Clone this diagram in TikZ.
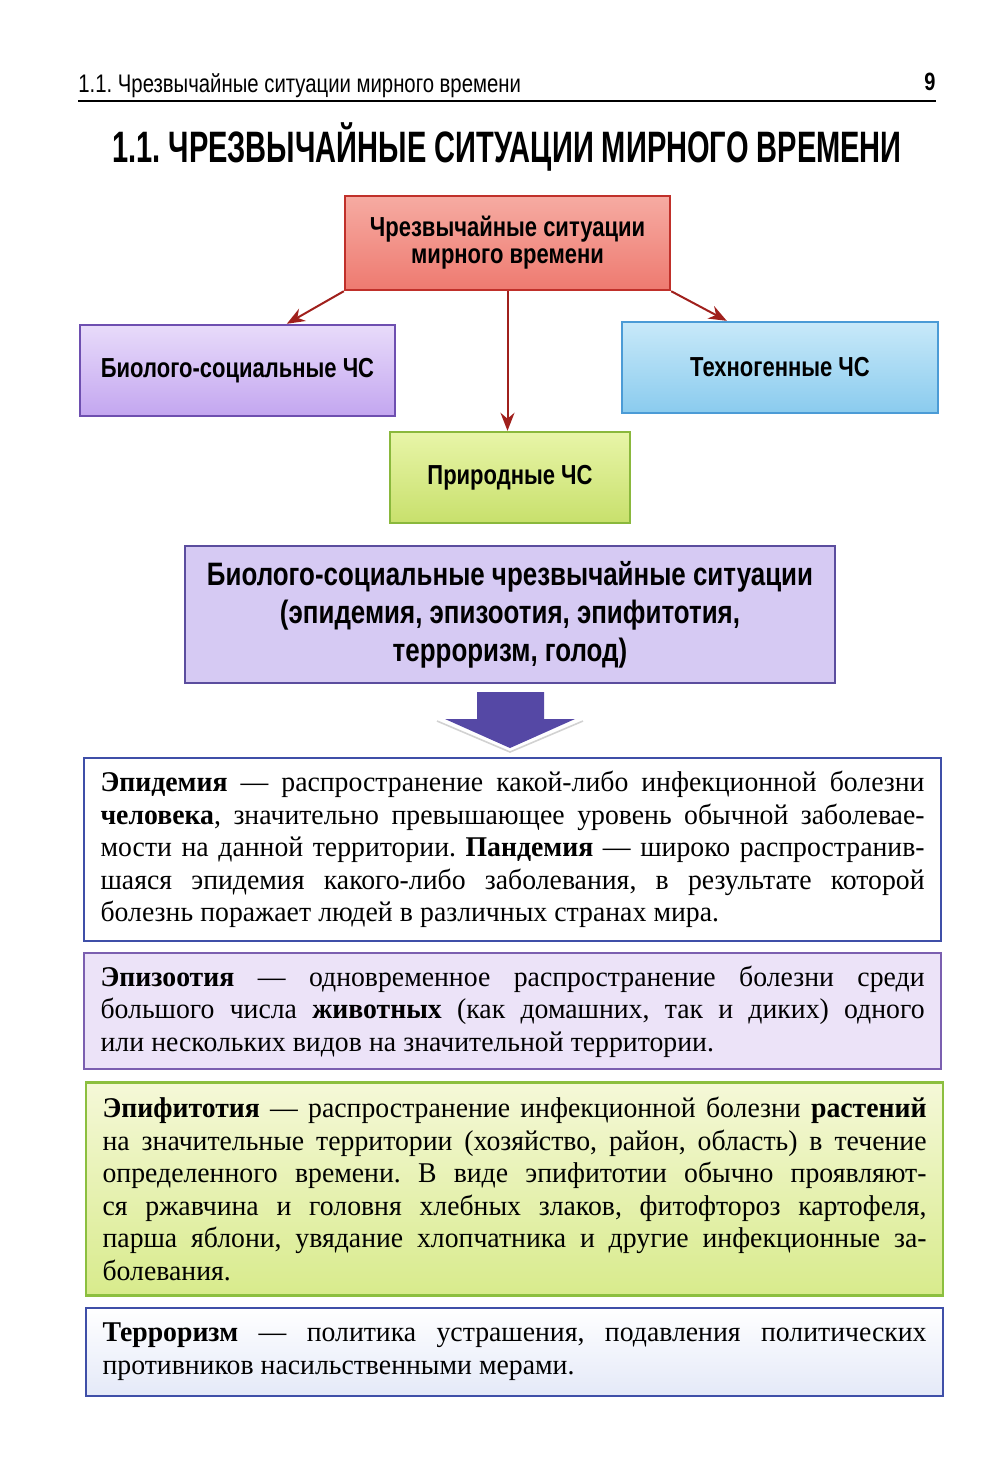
\documentclass[tikz,border=0pt]{standalone}
\usepackage{fontspec}
\setmainfont[FakeStretch=0.97]{Liberation Serif}
\newfontfamily\narrowsf[FakeStretch=0.8]{Liberation Sans}
\newfontfamily\titlesf[FakeStretch=0.66]{Liberation Sans}
\usetikzlibrary{positioning, arrows.meta}
\frenchspacing
\newcommand\bodyspacing{\spaceskip=0.25em plus 0.6em minus 0.12em\relax}

\definecolor{rootdraw}{HTML}{C0302A}
\definecolor{roottop}{HTML}{F6ABA2}
\definecolor{rootbot}{HTML}{EE7A70}
\definecolor{biodraw}{HTML}{6E4FB0}
\definecolor{biotop}{HTML}{E8DBFA}
\definecolor{biobot}{HTML}{C3A6F0}
\definecolor{techdraw}{HTML}{4B9BD6}
\definecolor{techtop}{HTML}{C8E9F9}
\definecolor{techbot}{HTML}{8ACBEE}
\definecolor{natdraw}{HTML}{8AB83C}
\definecolor{nattop}{HTML}{E8F5A8}
\definecolor{natbot}{HTML}{C8E06C}
\definecolor{linkred}{HTML}{A0201C}
\definecolor{bigfill}{HTML}{D6CAF3}
\definecolor{bigdraw}{HTML}{5B4D9E}
\definecolor{arrowfill}{HTML}{5548A5}
\definecolor{epiblue}{HTML}{3F4FA8}
\definecolor{zoopurple}{HTML}{7B5FB0}
\definecolor{zoofill}{HTML}{ECE3F8}
\definecolor{fitgreen}{HTML}{8CBF3F}
\definecolor{fittop}{HTML}{F5F8D8}
\definecolor{fitbot}{HTML}{D8EB8C}
\definecolor{terrbot}{HTML}{E4E9F8}

\begin{document}
\begin{tikzpicture}[
  x=0.5pt, y=-0.5pt,
  box/.style={draw, line width=1.2pt, inner sep=0pt, align=center,
    font=\narrowsf\bfseries\fontsize{13.75}{13.5}\selectfont},
  root/.style={box, draw=rootdraw, top color=roottop, bottom color=rootbot,
    minimum width=162.5pt, minimum height=47pt},
  bio/.style={box, draw=biodraw, top color=biotop, bottom color=biobot,
    minimum width=157.5pt, minimum height=45.5pt},
  tech/.style={box, draw=techdraw, top color=techtop, bottom color=techbot,
    minimum width=158pt, minimum height=45.5pt},
  nat/.style={box, draw=natdraw, top color=nattop, bottom color=natbot,
    minimum width=120pt, minimum height=45.5pt},
  bigbox/.style={box, draw=bigdraw, fill=bigfill, minimum width=325pt, minimum height=68.5pt,
    font=\narrowsf\bfseries\fontsize{16.2}{19}\selectfont},
  txt/.style={draw, line width=1.1pt, text width=412pt, align=justify, inner xsep=8.25pt,
    inner ysep=0pt, anchor=north west,
    font=\fontsize{14.3}{16.25}\selectfont\bodyspacing},
  link/.style={draw=linkred, line width=1pt, -{Stealth[length=9pt,width=7pt]}}
]
\useasboundingbox (0,0) rectangle (1000,1480);

% Running head and title
\node[anchor=base west, inner sep=0pt, font=\narrowsf\fontsize{12.7}{14}\selectfont]
  (runhead) at (78,92) {1.1. Чрезвычайные ситуации мирного времени};
\node[anchor=base east, inner sep=0pt, font=\narrowsf\bfseries\fontsize{12.5}{14}\selectfont]
  (pageno) at (936,90) {9};
\draw[line width=1.2pt] (78,101) -- (936,101);
\node[inner sep=0pt, font=\titlesf\bfseries\fontsize{22}{24}\selectfont]
  (title) at (507,147) {1.1. ЧРЕЗВЫЧАЙНЫЕ СИТУАЦИИ МИРНОГО ВРЕМЕНИ};

% Classification tree
\node[root] (cs)   at (507.5,243)   {Чрезвычайные ситуации\\мирного времени};
\node[bio]  (bio)  at (237.5,370.5) {Биолого-социальные ЧС};
\node[tech] (tech) at (780,367.5)   {Техногенные ЧС};
\node[nat]  (nat)  at (510,477.5)   {Природные ЧС};
\draw[link] (cs.south west) -- ([xshift=104pt]bio.north west);
\draw[link] (cs.south east) -- ([xshift=53pt]tech.north west);
\draw[link] (cs.south) -- (cs.south |- nat.north);

% Bio-social group
\node[bigbox] (bsgroup) at (510,614.5)
  {Биолого-социальные чрезвычайные ситуации\\(эпидемия, эпизоотия, эпифитотия,\\терроризм, голод)};
\draw[gray!35, line width=0.8pt] (437,721) -- (510,752) -- (583,721);
\fill[arrowfill] (477,692) -- (544,692) -- (544,719) -- (575,719) -- (510,748)
  -- (445,719) -- (477,719) -- cycle;

% Definitions
\node[txt, draw=epiblue, fill=white, minimum height=91.5pt] (epid) at (83,757)
  {\textbf{Эпидемия} — распространение какой-либо инфекционной болезни\linebreak
   \textbf{человека}, значительно превышающее уровень обычной заболевае-\linebreak
   мости на данной территории. \textbf{Пандемия} — широко распространив-\linebreak
   шаяся эпидемия какого-либо заболевания, в результате которой\linebreak
   болезнь поражает людей в различных странах мира.};
\node[txt, draw=zoopurple, fill=zoofill, minimum height=58pt,
  below=5pt of epid.south west, anchor=north west] (epiz)
  {\textbf{Эпизоотия} — одновременное распространение болезни среди\linebreak
   большого числа \textbf{животных} (как домашних, так и диких) одного\linebreak
   или нескольких видов на значительной территории.};
\node[txt, draw=fitgreen, top color=fittop, bottom color=fitbot, minimum height=106.5pt,
  below=5.5pt of epiz.south west, anchor=north west, xshift=1pt] (epif)
  {\textbf{Эпифитотия} — распространение инфекционной болезни \textbf{растений}\linebreak
   на значительные территории (хозяйство, район, область) в течение\linebreak
   определенного времени. В виде эпифитотии обычно проявляют-\linebreak
   ся ржавчина и головня хлебных злаков, фитофтороз картофеля,\linebreak
   парша яблони, увядание хлопчатника и другие инфекционные за-\linebreak
   болевания.};
\node[txt, draw=epiblue, top color=white, bottom color=terrbot, minimum height=44pt,
  below=5pt of epif.south west, anchor=north west] (terr)
  {\textbf{Терроризм} — политика устрашения, подавления политических\linebreak
   противников насильственными мерами.};
\end{tikzpicture}
\end{document}
